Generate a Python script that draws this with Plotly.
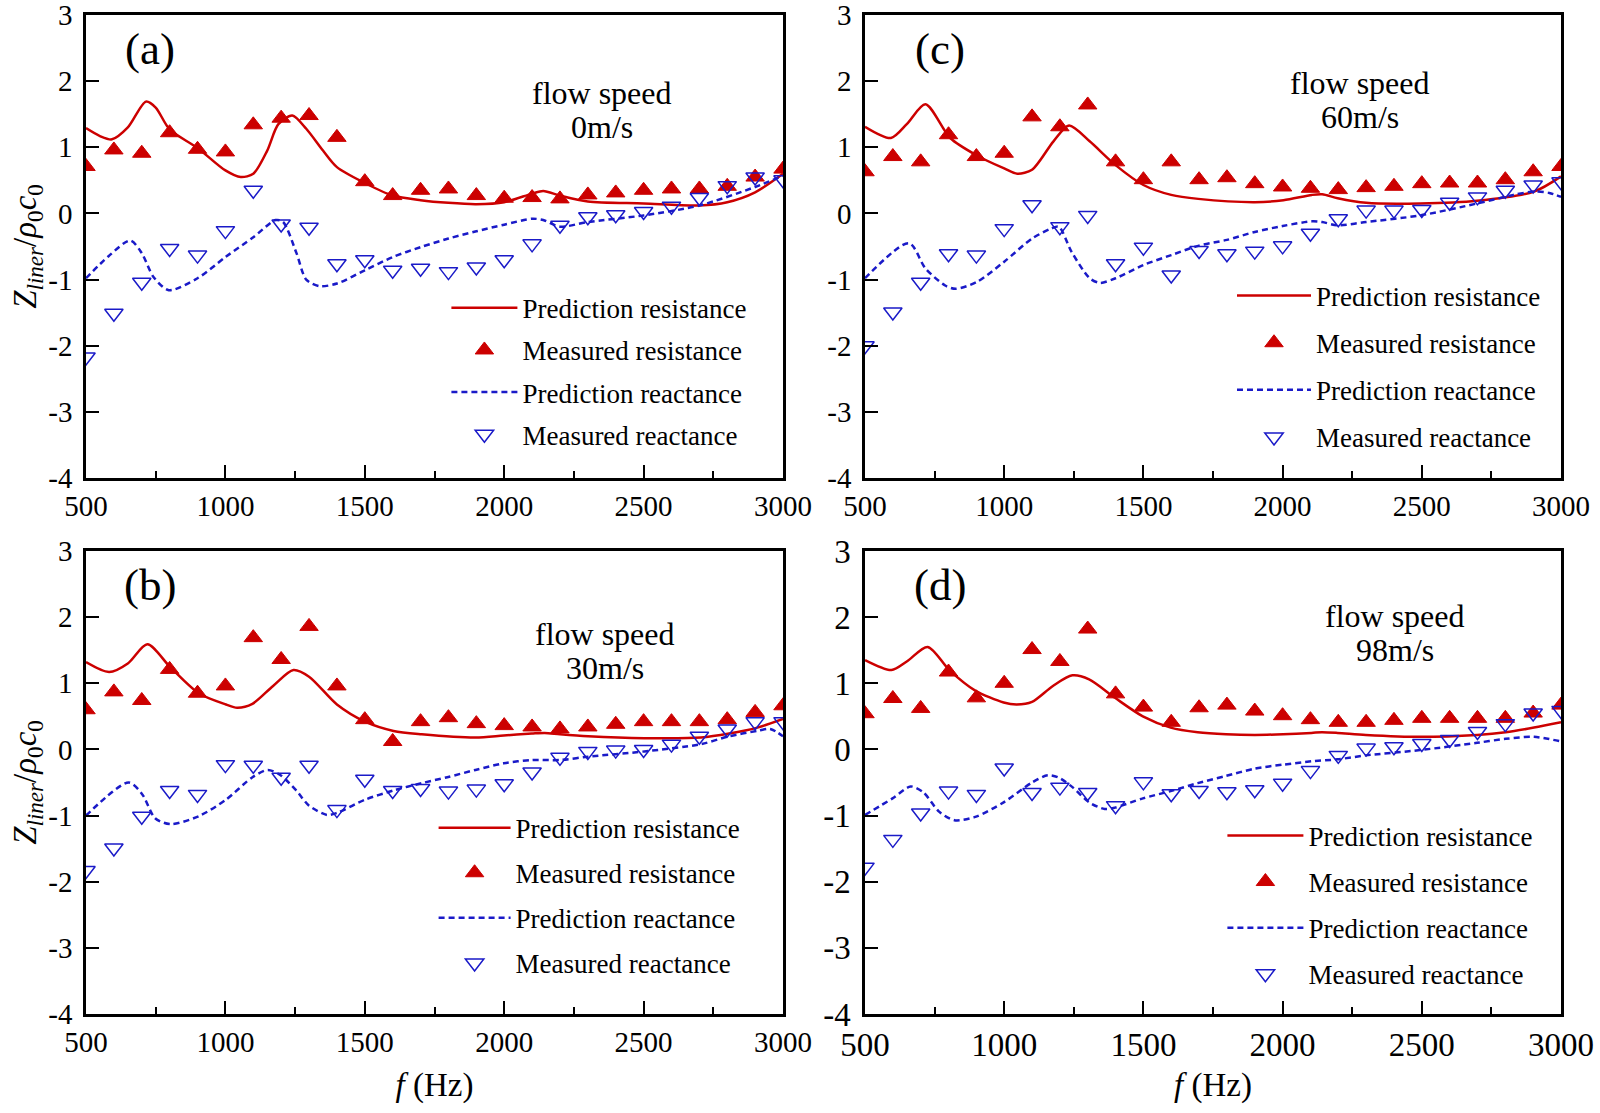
import plotly.graph_objects as go

# ---------------- data ----------------
freq_meas = [500, 600, 700, 800, 900, 1000, 1100, 1200, 1300, 1400, 1500, 1600, 1700,
             1800, 1900, 2000, 2100, 2200, 2300, 2400, 2500, 2600, 2700, 2800, 2900, 3000]

# (a) flow speed 0 m/s
a_res_meas = [0.71, 0.96, 0.91, 1.22, 0.97, 0.93, 1.34, 1.44, 1.48, 1.15, 0.48, 0.27, 0.35,
              0.37, 0.27, 0.23, 0.24, 0.22, 0.28, 0.31, 0.35, 0.37, 0.37, 0.41, 0.55, 0.67]
a_reac_meas = [-2.17, -1.51, -1.04, -0.53, -0.63, -0.26, 0.35, -0.16, -0.21, -0.76, -0.70, -0.86, -0.83,
               -0.88, -0.81, -0.70, -0.46, -0.18, -0.05, -0.02, 0.03, 0.11, 0.24, 0.42, 0.55, 0.51]
a_res_f = [500, 550, 593, 650, 715, 750, 800, 900, 1000, 1055, 1100, 1150, 1190, 1240, 1290, 1350,
           1400, 1500, 1600, 1700, 1800, 1900, 2000, 2100, 2140, 2200, 2300, 2500, 2700, 2800, 2900, 3000]
a_res_pred = [1.29, 1.17, 1.12, 1.3, 1.69, 1.6, 1.27, 0.99, 0.65, 0.55, 0.6, 0.95, 1.35, 1.48, 1.28, 0.95,
              0.7, 0.46, 0.27, 0.2, 0.16, 0.14, 0.17, 0.3, 0.34, 0.27, 0.18, 0.15, 0.12, 0.17, 0.32, 0.6]
a_reac_f = [500, 580, 659, 700, 742, 797, 900, 1000, 1100, 1180, 1207, 1255, 1290, 1337, 1400, 1500,
            1600, 1700, 1800, 1900, 2000, 2100, 2140, 2200, 2300, 2500, 2700, 2900, 3000]
a_reac_pred = [-0.98, -0.65, -0.41, -0.6, -0.96, -1.16, -0.98, -0.66, -0.36, -0.1, -0.13, -0.6, -1.0, -1.1,
               -1.06, -0.86, -0.66, -0.51, -0.38, -0.27, -0.17, -0.08, -0.1, -0.2, -0.13, -0.03, 0.12, 0.4, 0.57]

# (c) flow speed 60 m/s
c_res_meas = [0.63, 0.86, 0.78, 1.19, 0.86, 0.91, 1.46, 1.31, 1.64, 0.78, 0.51, 0.78, 0.51,
              0.54, 0.45, 0.40, 0.38, 0.36, 0.39, 0.41, 0.45, 0.46, 0.46, 0.51, 0.63, 0.71]
c_reac_meas = [-2.0, -1.49, -1.04, -0.61, -0.63, -0.23, 0.13, -0.2, -0.03, -0.76, -0.51, -0.93, -0.56,
               -0.61, -0.57, -0.49, -0.30, -0.08, 0.05, 0.05, 0.06, 0.17, 0.25, 0.35, 0.43, 0.48]
c_res_f = [500, 593, 650, 717, 806, 900, 1000, 1047, 1100, 1177, 1233, 1307, 1400, 1500, 1600, 1697,
           1900, 2003, 2105, 2142, 2198, 2300, 2494, 2698, 2903, 3000]
c_res_pred = [1.31, 1.14, 1.35, 1.65, 1.14, 0.88, 0.68, 0.6, 0.66, 1.09, 1.33, 1.09, 0.73, 0.43, 0.28, 0.22,
              0.17, 0.2, 0.28, 0.29, 0.23, 0.16, 0.15, 0.19, 0.33, 0.56]
c_reac_f = [500, 658, 717, 788, 825, 900, 1000, 1100, 1168, 1196, 1242, 1307, 1344, 1400, 1500, 1600,
            1697, 1800, 1900, 2000, 2105, 2142, 2198, 2300, 2494, 2698, 2829, 2903, 2958, 3000]
c_reac_pred = [-0.98, -0.45, -0.83, -1.09, -1.14, -1.04, -0.73, -0.38, -0.23, -0.2, -0.58, -0.98, -1.05, -0.98,
               -0.78, -0.63, -0.49, -0.4, -0.28, -0.19, -0.12, -0.13, -0.18, -0.13, -0.03, 0.15, 0.28, 0.33, 0.31, 0.25]

# (b) flow speed 30 m/s
b_res_meas = [0.60, 0.87, 0.74, 1.21, 0.85, 0.96, 1.69, 1.36, 1.86, 0.96, 0.45, 0.12, 0.42,
              0.48, 0.39, 0.36, 0.34, 0.31, 0.34, 0.38, 0.42, 0.42, 0.42, 0.45, 0.56, 0.66]
b_reac_meas = [-1.83, -1.49, -1.01, -0.62, -0.68, -0.23, -0.24, -0.42, -0.24, -0.91, -0.45, -0.62, -0.59,
               -0.63, -0.60, -0.52, -0.34, -0.12, -0.03, -0.01, 0.0, 0.08, 0.20, 0.31, 0.42, 0.42]
b_res_f = [500, 583, 650, 720, 803, 904, 1002, 1042, 1097, 1171, 1244, 1300, 1400, 1501, 1603, 1704,
           1897, 1998, 2099, 2145, 2200, 2301, 2503, 2706, 2807, 2908, 3000]
b_res_pred = [1.32, 1.17, 1.3, 1.59, 1.24, 0.85, 0.68, 0.63, 0.69, 0.96, 1.2, 1.1, 0.68, 0.42, 0.28, 0.23,
              0.18, 0.21, 0.24, 0.25, 0.23, 0.2, 0.17, 0.18, 0.24, 0.33, 0.46]
b_reac_f = [500, 653, 702, 748, 803, 904, 1002, 1097, 1152, 1198, 1254, 1300, 1364, 1400, 1501, 1603,
            1704, 1796, 1897, 1998, 2099, 2200, 2301, 2503, 2706, 2807, 2908, 2954, 3000]
b_reac_pred = [-1.0, -0.5, -0.68, -1.04, -1.13, -1.01, -0.76, -0.42, -0.31, -0.39, -0.62, -0.85, -0.99, -0.96,
               -0.76, -0.62, -0.51, -0.42, -0.31, -0.21, -0.16, -0.16, -0.11, -0.03, 0.08, 0.2, 0.28, 0.31, 0.2]

# (d) flow speed 98 m/s
d_res_meas = [0.54, 0.77, 0.62, 1.17, 0.78, 1.0, 1.51, 1.33, 1.82, 0.84, 0.64, 0.41, 0.63,
              0.67, 0.58, 0.51, 0.45, 0.41, 0.41, 0.44, 0.47, 0.47, 0.47, 0.47, 0.55, 0.67]
d_reac_meas = [-1.78, -1.36, -0.96, -0.63, -0.68, -0.28, -0.65, -0.57, -0.65, -0.85, -0.49, -0.67, -0.62,
               -0.64, -0.61, -0.51, -0.32, -0.09, 0.02, 0.04, 0.09, 0.15, 0.27, 0.39, 0.55, 0.59]
d_res_f = [500, 595, 650, 725, 803, 896, 998, 1045, 1100, 1175, 1245, 1305, 1398, 1498, 1598, 1695,
           1797, 1900, 2002, 2104, 2141, 2197, 2299, 2494, 2699, 2801, 2903, 3000]
d_res_pred = [1.35, 1.2, 1.33, 1.55, 1.2, 0.89, 0.71, 0.68, 0.72, 0.96, 1.12, 1.06, 0.78, 0.5, 0.33, 0.26,
              0.23, 0.22, 0.23, 0.25, 0.26, 0.25, 0.22, 0.19, 0.22, 0.26, 0.33, 0.41]
d_reac_f = [500, 599, 664, 710, 766, 821, 896, 998, 1100, 1156, 1193, 1245, 1305, 1361, 1398, 1498,
            1598, 1695, 1797, 1900, 2002, 2104, 2197, 2299, 2494, 2699, 2801, 2903, 3000]
d_reac_pred = [-0.99, -0.74, -0.56, -0.65, -0.94, -1.07, -1.02, -0.8, -0.5, -0.39, -0.42, -0.57, -0.8, -0.9,
               -0.88, -0.74, -0.63, -0.51, -0.4, -0.29, -0.23, -0.18, -0.15, -0.09, -0.01, 0.1, 0.16, 0.19, 0.12]

panel_labels = ["(a)", "(c)", "(b)", "(d)"]
speed_labels = ["0m/s", "60m/s", "30m/s", "98m/s"]
legend_names = ["Prediction resistance", "Measured resistance", "Prediction reactance", "Measured reactance"]
x_ticks = [500, 1000, 1500, 2000, 2500, 3000]
x_ticktext = ["500", "1000", "1500", "2000", "2500", "3000"]
y_ticks = [3, 2, 1, 0, -1, -2, -3, -4]
y_ticktext = ["3", "2", "1", "0", "-1", "-2", "-3", "-4"]

# ---------------- styling ----------------
FONT = "Liberation Serif"
RED = "#cc0000"
BLUE = "#1a1ac8"

panels = [
    dict(res_f=a_res_f, res_p=a_res_pred, reac_f=a_reac_f, reac_p=a_reac_pred, res_m=a_res_meas, reac_m=a_reac_meas,
         xd=[86/1600, 783/1600], yd=[1-478/1113, 1-15/1113], leg=(0.279, 0.745), gap=4, iw=66,
         lab=(0.092, 0.927), sp=(0.74, 0.831, 0.758), tf=29, xs=17),
    dict(res_f=c_res_f, res_p=c_res_pred, reac_f=c_reac_f, reac_p=c_reac_pred, res_m=c_res_meas, reac_m=c_reac_meas,
         xd=[865/1600, 1561/1600], yd=[1-478/1113, 1-15/1113], leg=(0.770, 0.756), gap=9, iw=74,
         lab=(0.108, 0.927), sp=(0.711, 0.853, 0.780), tf=29, xs=17),
    dict(res_f=b_res_f, res_p=b_res_pred, reac_f=b_reac_f, reac_p=b_reac_pred, res_m=b_res_meas, reac_m=b_reac_meas,
         xd=[86/1600, 783/1600], yd=[1-1014/1113, 1-551/1113], leg=(0.271, 0.278), gap=7, iw=72,
         lab=(0.092, 0.927), sp=(0.745, 0.821, 0.747), tf=29, xs=17),
    dict(res_f=d_res_f, res_p=d_res_pred, reac_f=d_reac_f, reac_p=d_reac_pred, res_m=d_res_meas, reac_m=d_reac_meas,
         xd=[865/1600, 1561/1600], yd=[1-1014/1113, 1-551/1113], leg=(0.764, 0.271), gap=8, iw=76,
         lab=(0.108, 0.927), sp=(0.761, 0.860, 0.786), tf=33, xs=11),
]

fig = go.Figure()
layout_updates = {}
annotations = []

for i, p in enumerate(panels):
    n = i + 1
    sfx = "" if n == 1 else str(n)
    xa, ya = "x" + sfx, "y" + sfx
    legname = "legend" + sfx

    fig.add_trace(go.Scatter(x=p["res_f"], y=p["res_p"], mode="lines", name=legend_names[0],
                             line=dict(color=RED, width=2.5, shape="spline", smoothing=0.8),
                             xaxis=xa, yaxis=ya, legend=legname, legendgroup=f"g{n}a"))
    fig.add_trace(go.Scatter(x=freq_meas, y=p["res_m"], mode="markers", name=legend_names[1],
                             marker=dict(symbol="triangle-up", size=16, color=RED, line=dict(color=RED, width=1)),
                             xaxis=xa, yaxis=ya, legend=legname, legendgroup=f"g{n}b"))
    fig.add_trace(go.Scatter(x=p["reac_f"], y=p["reac_p"], mode="lines", name=legend_names[2],
                             line=dict(color=BLUE, width=2.5, dash="6px,4px", shape="spline", smoothing=0.8),
                             xaxis=xa, yaxis=ya, legend=legname, legendgroup=f"g{n}c"))
    fig.add_trace(go.Scatter(x=freq_meas, y=p["reac_m"], mode="markers", name=legend_names[3],
                             marker=dict(symbol="triangle-down-open", size=16, color=BLUE, line=dict(color=BLUE, width=1.5)),
                             xaxis=xa, yaxis=ya, legend=legname, legendgroup=f"g{n}d"))

    xaxis = dict(domain=p["xd"], anchor=ya, range=[500, 3000], tickmode="array", tickvals=x_ticks, ticktext=x_ticktext,
                 ticks="inside", ticklen=13, tickwidth=2, tickcolor="black", automargin=False,
                 ticklabeloverflow="allow",
                 minor=dict(tickvals=[750, 1250, 1750, 2250, 2750], ticks="inside", ticklen=7, tickwidth=2, tickcolor="black"),
                 showline=True, linecolor="black", linewidth=2.5, mirror=True, showgrid=False, zeroline=False,
                 tickfont=dict(family=FONT, size=p["tf"], color="black"))
    yaxis = dict(domain=p["yd"], anchor=xa, range=[-4, 3], tickmode="array", tickvals=y_ticks, ticktext=y_ticktext,
                 ticks="inside", ticklen=13, tickwidth=2, tickcolor="black", automargin=False,
                 ticklabeloverflow="allow", ticklabelstandoff=5,
                 showline=True, linecolor="black", linewidth=2.5, mirror=True, showgrid=False, zeroline=False,
                 tickfont=dict(family=FONT, size=p["tf"], color="black"))
    if n in (3, 4):
        xaxis["title"] = dict(text="<i>f</i> (Hz)", font=dict(family=FONT, size=33, color="black"), standoff=p["xs"])
    if n in (1, 3):
        yaxis["title"] = dict(text="<i>Z</i><sub><i>liner</i></sub>/<i>ρ</i><sub>0</sub><i>c</i><sub>0</sub>",
                              font=dict(family=FONT, size=33, color="black"), standoff=0)
    layout_updates["xaxis" + sfx] = xaxis
    layout_updates["yaxis" + sfx] = yaxis
    layout_updates[legname] = dict(x=p["leg"][0], y=p["leg"][1], xanchor="left", yanchor="top",
                                   xref="paper", yref="paper", bgcolor="rgba(0,0,0,0)",
                                   font=dict(family=FONT, size=27, color="black"),
                                   tracegroupgap=p["gap"], itemwidth=p["iw"])

    annotations.append(dict(text=panel_labels[i], x=p["lab"][0], y=p["lab"][1], xref=xa + " domain", yref=ya + " domain",
                            showarrow=False, font=dict(family=FONT, size=45, color="black"),
                            xanchor="center", yanchor="middle"))
    annotations.append(dict(text="flow speed", x=p["sp"][0], y=p["sp"][1],
                            xref=xa + " domain", yref=ya + " domain", showarrow=False,
                            font=dict(family=FONT, size=32, color="black"), xanchor="center", yanchor="middle"))
    annotations.append(dict(text=speed_labels[i], x=p["sp"][0], y=p["sp"][2],
                            xref=xa + " domain", yref=ya + " domain", showarrow=False,
                            font=dict(family=FONT, size=32, color="black"), xanchor="center", yanchor="middle"))

fig.update_layout(**layout_updates)
fig.update_layout(width=1600, height=1113, margin=dict(l=0, r=0, t=0, b=0),
                  paper_bgcolor="white", plot_bgcolor="white", annotations=annotations,
                  font=dict(family=FONT, color="black"))

fig.write_html("out.html")
